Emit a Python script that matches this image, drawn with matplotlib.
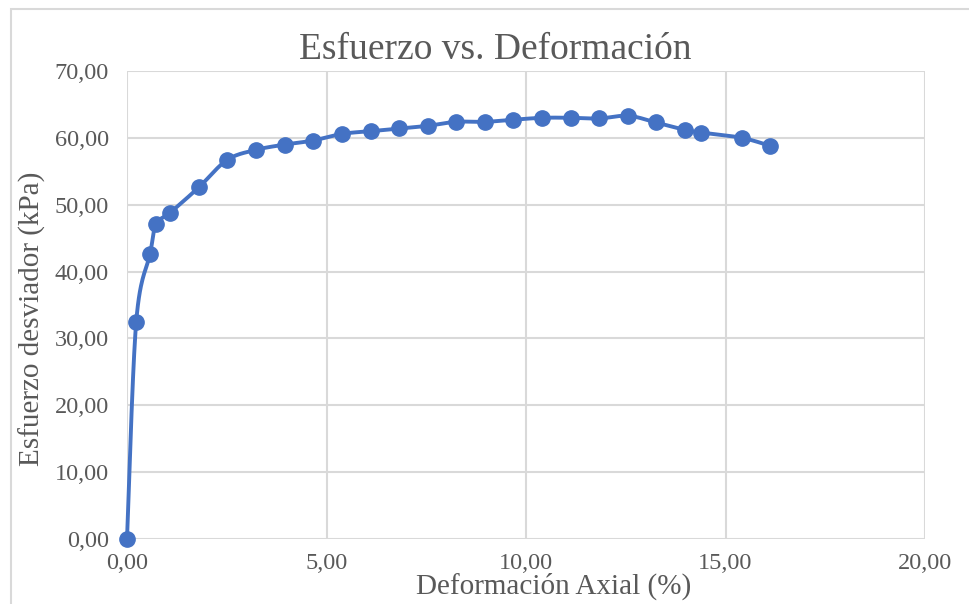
import matplotlib.pyplot as plt
from matplotlib.patches import Rectangle
import numpy as np

# Ensayo triaxial: deformacion axial (%) vs esfuerzo desviador (kPa)
deformacion = [0.00, 0.23, 0.58, 0.73, 1.08, 1.80, 2.51, 3.23, 3.96, 4.66,
               5.39, 6.12, 6.82, 7.54, 8.25, 8.97, 9.67, 10.40, 11.13, 11.83,
               12.56, 13.26, 13.98, 14.39, 15.41, 16.12]
esfuerzo = [0.00, 32.4, 42.7, 47.1, 48.8, 52.6, 56.7, 58.2, 59.0, 59.6,
            60.6, 61.0, 61.4, 61.8, 62.4, 62.4, 62.7, 63.0, 63.0, 62.9,
            63.3, 62.3, 61.2, 60.8, 60.0, 58.8]

xticks = [0, 5, 10, 15, 20]
yticks = [0, 10, 20, 30, 40, 50, 60, 70]

azul = "#4472C4"
gris_txt = "#595959"
gris_grid = "#D9D9D9"
fuente = "Liberation Serif"


def suavizar(x, y, sx, sy, n=30):
    # curva suavizada tipo Bezier (Catmull-Rom) calculada en unidades de pantalla
    px = np.array(x) * sx
    py = np.array(y) * sy
    px = np.concatenate([[px[0]], px, [px[-1]]])
    py = np.concatenate([[py[0]], py, [py[-1]]])
    t = np.linspace(0, 1, n)
    xs, ys = [], []
    for i in range(1, len(px) - 2):
        p0 = np.array([px[i], py[i]])
        p3 = np.array([px[i + 1], py[i + 1]])
        p1 = p0 + (np.array([px[i + 1], py[i + 1]]) - np.array([px[i - 1], py[i - 1]])) / 6
        p2 = p3 - (np.array([px[i + 2], py[i + 2]]) - np.array([px[i], py[i]])) / 6
        b = ((1 - t) ** 3)[:, None] * p0 + (3 * (1 - t) ** 2 * t)[:, None] * p1 \
            + (3 * (1 - t) * t ** 2)[:, None] * p2 + (t ** 3)[:, None] * p3
        xs.extend(b[:, 0])
        ys.extend(b[:, 1])
    return np.array(xs) / sx, np.array(ys) / sy


fig = plt.figure(figsize=(9.69, 6.04), dpi=100)
fig.patches.append(Rectangle((10.5 / 969, -0.1), 1.2, 1 - 8.5 / 604 + 0.1,
                             transform=fig.transFigure, fill=False,
                             edgecolor=gris_grid, linewidth=1.5))

ax = fig.add_axes([127 / 969, 1 - 539 / 604, 798 / 969, 468 / 604])
ax.set_xlim(0, 20)
ax.set_ylim(0, 70)

sx = 798 / 20
sy = 468 / 70
xs, ys = suavizar(deformacion, esfuerzo, sx, sy)
ax.plot(xs, ys, color=azul, linewidth=2.8, zorder=3, clip_on=False)
ax.plot(deformacion, esfuerzo, "o", color=azul, markersize=11, zorder=4, clip_on=False)

ax.set_xticks(xticks)
ax.set_yticks(yticks)
ax.set_xticklabels([f"{v:.2f}".replace(".", ",") for v in xticks])
ax.set_yticklabels([f"{v:.2f}".replace(".", ",") for v in yticks])
ax.tick_params(length=0, labelsize=17.5, labelcolor=gris_txt)
ax.tick_params(axis="y", pad=13)
ax.tick_params(axis="x", pad=10)
for lbl in ax.get_xticklabels() + ax.get_yticklabels():
    lbl.set_fontfamily(fuente)

ax.grid(True, color=gris_grid, linewidth=1.5)
ax.set_axisbelow(True)
for s in ax.spines.values():
    s.set_visible(False)

fig.text(495 / 969, 1 - 50 / 604, "Esfuerzo vs. Deformación", ha="center", va="center",
         fontsize=27, color=gris_txt, family=fuente)
fig.text(32 / 969, 1 - 319 / 604, "Esfuerzo desviador (kPa)", ha="center", va="center",
         rotation=90, fontsize=21, color=gris_txt, family=fuente)
fig.text(554 / 969, 1 - 586 / 604, "Deformación Axial (%)", ha="center", va="center",
         fontsize=21, color=gris_txt, family=fuente)

fig.savefig("out.png", dpi=100)
